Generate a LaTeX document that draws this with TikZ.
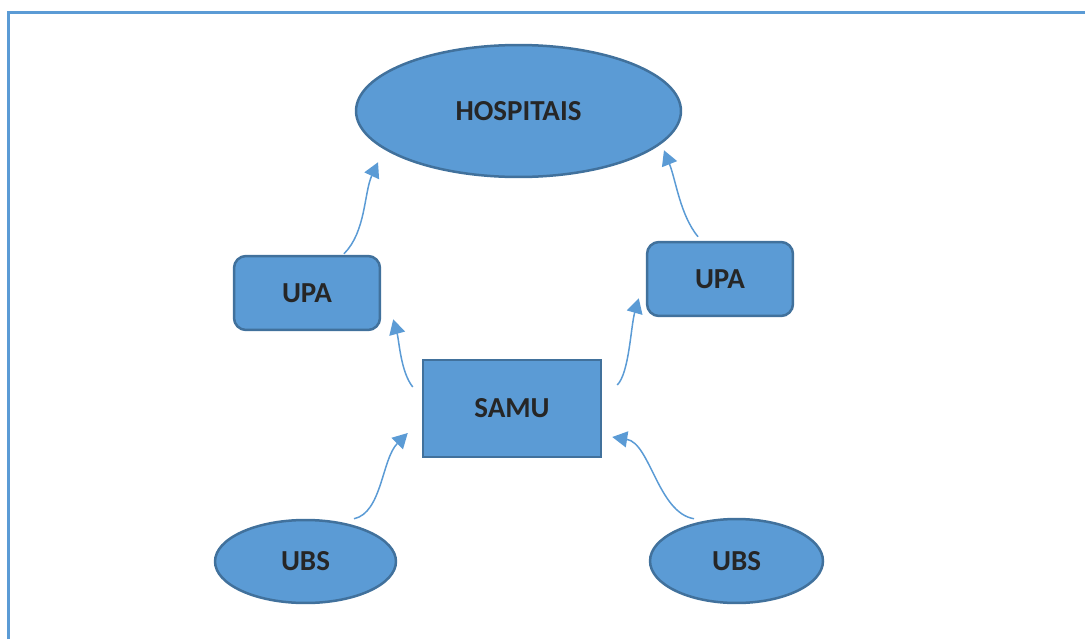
\documentclass[tikz,border=0pt]{standalone}
\usepackage{fontspec}
\setmainfont{Carlito}
\usetikzlibrary{shapes.geometric,arrows.meta}
\definecolor{officeblue}{HTML}{5B9BD5}
\definecolor{edgeblue}{HTML}{41719C}
\definecolor{labelgray}{HTML}{262626}
\begin{document}
\begin{tikzpicture} [
        x=0.02cm, y=-0.02cm,
        blob/.style={draw=edgeblue, ellipse, line width=0.05cm, fill=officeblue, inner sep=0pt},
        box/.style={draw=edgeblue, rectangle, line width=0.05cm, fill=officeblue, inner sep=0pt},
        roundbox/.style={box, rounded corners=0.24cm},
        link/.style={draw=officeblue, line width=0.03cm, -{Triangle[length=0.3cm,width=0.32cm]}},
        frame/.style={draw=officeblue, line width=0.05cm},
        font=\fontsize{16.5}{20}\selectfont\bfseries, text=labelgray,
        align=center ]
    \useasboundingbox (0,0) rectangle (1085,639);
    \draw[frame] (8.5,639) -- (8.5,12.5) -- (1085,12.5);
    \node[blob, minimum width=6.5cm, minimum height=2.64cm] (hosp) at (518.5,111) {HOSPITAIS};
    \node[roundbox, minimum width=2.92cm, minimum height=1.48cm] (upaL) at (307,293) {UPA};
    \node[roundbox, minimum width=2.92cm, minimum height=1.48cm] (upaR) at (720,279) {UPA};
    \node[box, minimum width=3.56cm, minimum height=1.94cm] (samu) at (512,408.5) {SAMU};
    \node[blob, minimum width=3.62cm, minimum height=1.66cm] (ubsL) at (305.5,561.5) {UBS};
    \node[blob, minimum width=3.46cm, minimum height=1.68cm] (ubsR) at (736.5,561) {UBS};
    \draw[link] ([xshift=0.74cm,yshift=0.02cm]upaL.north) .. controls +(22,-22) and +(-14,30) .. ([xshift=-2.81cm,yshift=0.32cm]hosp.south);
    \draw[link] ([xshift=-0.44cm,yshift=0.08cm]upaR.north) .. controls +(-18,-22) and +(12,30) .. ([xshift=2.91cm,yshift=0.56cm]hosp.south);
    \draw[link] ([xshift=-0.18cm,yshift=0.43cm]samu.west) .. controls +(-12,-15) and +(6,22) .. ([xshift=0.24cm,yshift=0.24cm]upaL.south east);
    \draw[link] ([xshift=0.3cm,yshift=0.47cm]samu.east) .. controls +(12,-12) and +(-8,28) .. ([xshift=-0.14cm,yshift=0.38cm]upaR.south west);
    \draw[link] ([xshift=0.97cm]ubsL.north) .. controls +(28,-6) and +(-26,26) .. ([xshift=-0.28cm,yshift=-0.49cm]samu.west);
    \draw[link] ([xshift=-0.85cm,yshift=-0.02cm]ubsR.north) .. controls +(-36,-6) and +(38,6) .. ([xshift=0.2cm,yshift=-0.57cm]samu.east);
\end{tikzpicture}
\end{document}
